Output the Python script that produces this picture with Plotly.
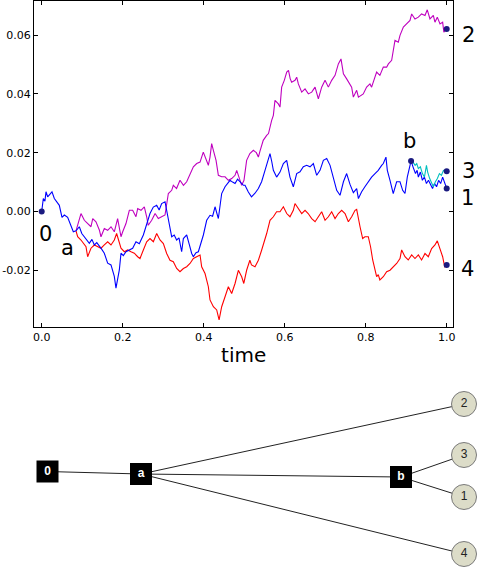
import plotly.graph_objects as go

# ---------------- data ----------------
# trunk + blue branch (0 -> a -> b -> leaf 1)
blue_t = [0, .004, .008, .0106, .0147, .019, .0254, .0312, .037, .0435, .0501, .0559, .0641, .0723, .0781, .0847,
          .0929, .099, .1053, .1117, .1176, .124, .13, .136, .1423, .148, .1546, .1629, .1711, .1793, .1834, .1917,
          .1958, .2016, .2081, .2164, .2246, .2328, .241, .251, .2592, .2674, .2756, .2839, .29, .2962, .3045, .3127,
          .321, .3272, .3332, .339, .3456, .3498, .358, .364, .3704, .3745, .381, .3868, .393, .3992, .4074, .4156,
          .422, .428, .4362, .4444, .4527, .459, .465, .4713, .4774, .4836, .4897, .498, .502, .5102, .518, .5267,
          .535, .543, .5514, .5596, .5637, .568, .572, .58, .5884, .5967, .6049, .613, .6213, .6296, .6378, .646,
          .6543, .6625, .6707, .679, .6872, .6955, .7037, .712, .72, .7284, .7366, .745, .753, .7613, .7695, .7777,
          .782, .79, .798, .8064, .8146, .823, .831, .8394, .8435, .85, .8534, .86, .868, .8764, .8847, .8913, .897,
          .9027, .9094, .912,
          .917, .923, .927, .93, .935, .94, .945, .95, .955, .96, .965, .97, .975, .98, .985, .99, .995, 1.0]
blue_v = [0, .0044, .0035, .0067, .005, .0058, .0067, .0044, .0033, .0021, -.002, -.0012, -.002, -.0052, -.0069, -.0066,
          -.0052, -.0075, -.0086, -.0098, -.0108, -.0095, -.0114, -.0106, -.012, -.0128, -.0142, -.0176, -.0182, -.0221, -.0261, -.0199,
          -.0142, -.015, -.0137, -.0131, -.0125, -.0103, -.011, -.008, -.0041, -.0007, .0015, .0021, .0005, .0027, .0033, -.003,
          -.0086, -.008, -.0097, -.009, -.0137, -.0092, -.008, -.011, -.0143, -.0154, -.014, -.0137, -.011, -.008, -.003, -.0013,
          -.0016, .0016, -.0024, .0061, .0084, .0095, .0106, .01, .0095, .011, .0101, .0089, .0089, .0066, .005, .0062,
          .0078, .0101, .014, .0174, .0197, .017, .014, .0117, .0134, .0163, .0174, .0117, .0084, .0129, .0135, .0152,
          .0157, .0152, .0163, .0123, .014, .0174, .018, .0157, .0117, .0072, .0055, .0101, .0129, .0092, .0064, .0078,
          .0044, .0067, .0084, .0101, .0117, .0129, .014, .0157, .0163, .0185, .014, .0106, .0061, .0101, .0101, .0072, .0061,
          .0117, .0163, .0172,
          .0151, .0129, .014, .0117, .0134, .0106, .0117, .0095, .0106, .0089, .0078, .0095, .0084, .0106, .0095, .0117, .0095, .0078]

# red branch (a -> leaf 4)
red_t = [.0847, .0888, .097, .103, .1094, .1135, .1217, .13, .1382, .1464, .1546, .1629, .1711, .1793, .185, .1958,
         .204, .2123, .2205, .2287, .237, .2427, .251, .2592, .2674, .2757, .2839, .2921, .3004, .3086, .3168, .325,
         .3333, .3415, .3498, .358, .3662, .3745, .3827, .391, .395, .4033, .4115, .4156, .4239, .4321, .438, .4444,
         .4527, .4609, .4691, .4774, .4856, .4938, .499, .506, .514, .518, .5267, .535, .543, .5514, .5555, .5637,
         .572, .58, .5884, .5967, .605, .613, .6213, .6254, .6337, .642, .6502, .658, .6667, .675, .6831, .6913,
         .6996, .7078, .716, .7243, .7325, .7407, .749, .7572, .7654, .7695, .7736, .7777, .782, .786, .7925, .798,
         .8064, .812, .8173, .823, .827, .831, .835, .8435, .8517, .86, .868, .8764, .8847, .8888, .897, .905,
         .9135, .9217, .93, .938, .9464, .9546, .9628, .971, .9768, .9835, .99, .995, 1.0]
red_v = [-.0066, -.0086, -.0097, -.011, -.012, -.0154, -.0125, -.0114, -.012, -.0125, -.0114, -.0103, -.0114, -.0097, -.0075, -.0125,
         -.0137, -.0131, -.0137, -.0142, -.0154, -.016, -.0131, -.0103, -.0092, -.0103, -.0075, -.0097, -.0109, -.0143, -.0166, -.0171,
         -.0194, -.0205, -.0194, -.0188, -.0177, -.016, -.0154, -.0148, -.0188, -.0211, -.0256, -.0301, -.0324, -.0335, -.0369, -.0324,
         -.029, -.0256, -.0279, -.0245, -.02, -.0222, -.0245, -.02, -.0166, -.0182, -.0188, -.0166, -.0132, -.0098, -.0075, -.003,
         -.0018, -.0001, -.0001, .0016, -.0007, -.0018, .0004, .0027, .001, -.0007, .0004, -.0007, -.0024, -.0035, -.0018, -.0001,
         -.003, -.0018, -.0001, -.0024, -.0007, .0004, -.0007, -.0035, -.0018, -.0007, .0004, .0007, -.0018, -.0052, -.0092, -.0086,
         -.0086, -.012, -.0165, -.02, -.0222, -.0215, -.0233, -.0222, -.0205, -.02, -.0188, -.0177, -.016, -.0131, -.0154, -.0165,
         -.0148, -.016, -.0148, -.0165, -.0143, -.0154, -.0126, -.0114, -.01, -.0131, -.0154, -.0188, -.0182]

# magenta branch (a -> leaf 2)
mag_t = [.0847, .093, .097, .1053, .1135, .1217, .126, .134, .1423, .1464, .1546, .1629, .1711, .1793, .1875, .1958,
         .2, .2081, .2164, .2246, .2328, .237, .2452, .2534, .2592, .263, .2716, .28, .288, .296, .3045, .3127,
         .321, .325, .333, .3415, .35, .358, .366, .3745, .3827, .391, .399, .4074, .4115, .4156, .4197, .4239,
         .4305, .4362, .4444, .4527, .4609, .4691, .4774, .4815, .4856, .4897, .4938, .4995, .506, .514, .5226, .53,
         .535, .539, .543, .547, .5555, .56, .5678, .572, .576, .5843, .5884, .5925, .599, .605, .6094, .6135,
         .6172, .6255, .6296, .6337, .642, .6502, .6584, .6667, .675, .6831, .6913, .6996, .7078, .716, .7243, .7325,
         .739, .745, .753, .7613, .7653, .7695, .7777, .782, .788, .794, .8023, .8105, .8146, .8229, .827, .835,
         .8435, .8517, .856, .8641, .868, .8723, .8805, .8847, .893, .901, .9094, .9135, .9217, .93, .938, .9464,
         .952, .9587, .967, .971, .9768, .9835, .99, .993, 1.0]
mag_v = [-.0066, -.0024, -.0007, -.003, -.0041, -.0052, -.0024, -.0035, -.0063, -.0086, -.0058, -.0064, -.0052, -.0069, -.0024, -.0086,
         -.0069, -.0041, .0004, .0004, -.0018, .001, .0004, .0016, -.0018, -.0047, -.003, -.0007, -.0024, -.0018, -.0012, .0061,
         .0072, .0089, .0078, .0106, .0089, .0101, .0123, .0152, .0163, .0168, .0202, .0174, .0157, .0185, .0231, .0208,
         .0174, .0123, .0118, .0118, .0106, .0112, .0123, .014, .0125, .0106, .0089, .0106, .0174, .0197, .0208, .02,
         .0185, .0205, .0225, .0242, .0259, .0265, .031, .0327, .0378, .0366, .0355, .0423, .0446, .0474, .048, .0452,
         .044, .0446, .0457, .0434, .0406, .0417, .04, .0406, .0423, .0383, .0423, .0446, .0423, .0446, .0463, .0502,
         .0519, .0468, .0451, .0434, .0423, .0389, .0412, .0389, .0395, .04, .0423, .0434, .0423, .0457, .0474, .0463,
         .0491, .0491, .0502, .0514, .0548, .0582, .0576, .0599, .0627, .0638, .065, .0672, .0655, .0661, .0672, .0667,
         .0686, .0655, .0667, .0644, .0661, .0638, .0644, .061, .0621]

# cyan branch (b -> leaf 3)
cyan_t = [.912, .917, .922, .926, .93, .935, .94, .945, .95, .953, .958, .963, .967, .972, .977, .982, .987, .992, 1.0]
cyan_v = [.0172, .0168, .0157, .0163, .0146, .0152, .0129, .0117, .0157, .0134, .0112, .0095, .0084, .0101, .0112, .0129, .0123, .014, .0137]

x_ticks = [0.0, 0.2, 0.4, 0.6, 0.8, 1.0]
y_ticks = [-0.02, 0.00, 0.02, 0.04, 0.06]

# tree structure
tree_nodes = ["0", "a", "b", "2", "3", "1", "4"]
tree_edges = [("0", "a"), ("a", "b"), ("a", "2"), ("a", "4"), ("b", "3"), ("b", "1")]
internal_nodes = ["0", "a", "b"]
leaf_nodes = ["2", "3", "1", "4"]

# ---------------- layout helpers ----------------
W, H = 479, 567
# tree drawing positions (in pixel-like layout units of the lower panel)
node_pos = {"0": (47.5, 471.5), "a": (141, 474), "b": (401, 477),
            "2": (464, 404), "3": (464, 455), "1": (464, 497), "4": (464, 554)}

fig = go.Figure()
lw = 1.1
fig.add_trace(go.Scatter(x=mag_t, y=mag_v, mode="lines", line=dict(color="#bf00bf", width=lw)))
fig.add_trace(go.Scatter(x=red_t, y=red_v, mode="lines", line=dict(color="#ff0000", width=lw)))
fig.add_trace(go.Scatter(x=blue_t, y=blue_v, mode="lines", line=dict(color="#0000ff", width=lw)))
fig.add_trace(go.Scatter(x=cyan_t, y=cyan_v, mode="lines", line=dict(color="#00bfbf", width=lw)))

b_idx = blue_t.index(.912)
dot_x = [blue_t[0], blue_t[b_idx], blue_t[-1], red_t[-1], mag_t[-1], cyan_t[-1]]
dot_y = [blue_v[0], blue_v[b_idx], blue_v[-1], red_v[-1], mag_v[-1], cyan_v[-1]]
fig.add_trace(go.Scatter(x=dot_x, y=dot_y, mode="markers", cliponaxis=False,
                         marker=dict(color="#1a1a80", size=6, line=dict(width=0))))

# tree edges
ex, ey = [], []
for p, c in tree_edges:
    ex += [node_pos[p][0], node_pos[c][0], None]
    ey += [node_pos[p][1], node_pos[c][1], None]
fig.add_trace(go.Scatter(x=ex, y=ey, mode="lines", line=dict(color="#222222", width=1),
                         xaxis="x2", yaxis="y2"))
fig.add_trace(go.Scatter(x=[node_pos[n][0] for n in internal_nodes], y=[node_pos[n][1] for n in internal_nodes],
                         mode="markers+text", text=internal_nodes, textposition="middle center",
                         marker=dict(symbol="square", size=22, color="black", line=dict(width=0)),
                         textfont=dict(family="Liberation Sans", size=12, color="white", weight="bold"),
                         xaxis="x2", yaxis="y2", cliponaxis=False))
fig.add_trace(go.Scatter(x=[node_pos[n][0] for n in leaf_nodes], y=[node_pos[n][1] for n in leaf_nodes],
                         mode="markers+text", text=leaf_nodes, textposition="middle center",
                         marker=dict(symbol="circle", size=25, color="#dcdcc8", line=dict(width=1, color="#7a7a7a")),
                         textfont=dict(family="Liberation Sans", size=12, color="#222222"),
                         xaxis="x2", yaxis="y2", cliponaxis=False))

ann_font = dict(family="DejaVu Sans", size=21, color="black")
labels_in = [("0", 0.0094, -0.0075), ("a", 0.0637, -0.0125), ("b", 0.907, 0.0240)]
labels_out = [("2", 468, 0.0602), ("3", 468, 0.0137), ("1", 467, 0.0045), ("4", 467, -0.0196)]
annotations = [dict(text=t, x=x, y=y, xref="x", yref="y", showarrow=False, font=ann_font,
                    xanchor="center", yanchor="middle") for t, x, y in labels_in]
annotations += [dict(text=t, x=px / W, y=y, xref="paper", yref="y", showarrow=False, font=ann_font,
                     xanchor="center", yanchor="middle") for t, px, y in labels_out]

axis_common = dict(showline=True, linecolor="black", linewidth=1.3, mirror="ticks", ticks="inside",
                   ticklen=4, tickwidth=1, tickcolor="black", showgrid=False, zeroline=False,
                   automargin=False,
                   tickfont=dict(family="DejaVu Sans", size=11, color="black"))

fig.update_layout(
    template="none",
    width=W, height=H, margin=dict(l=0, r=0, t=0, b=0, pad=0),
    paper_bgcolor="white", plot_bgcolor="white", showlegend=False,
    annotations=annotations,
    xaxis=dict(domain=[34 / W, 453.3 / W], range=[-0.019, 1.0163], tickvals=x_ticks,
               ticktext=[f"{v:.1f}" for v in x_ticks], anchor="y",
               title=dict(text="time", font=dict(family="DejaVu Sans", size=20, color="black"), standoff=4),
               **axis_common),
    yaxis=dict(domain=[1 - 327 / H, 1 - 0.7 / H], range=[-0.0393, 0.0717], tickvals=y_ticks,
               ticktext=[f"{v:.2f}" for v in y_ticks], anchor="x", **axis_common),
    xaxis2=dict(domain=[0, 1], range=[0, W], visible=False, anchor="y2", automargin=False),
    yaxis2=dict(domain=[0, 1 - 385 / H], range=[H, 385], visible=False, anchor="x2", automargin=False),
)

fig.write_html("out.html", config={"displayModeBar": False},
               post_script="document.body.style.margin='0px';")
